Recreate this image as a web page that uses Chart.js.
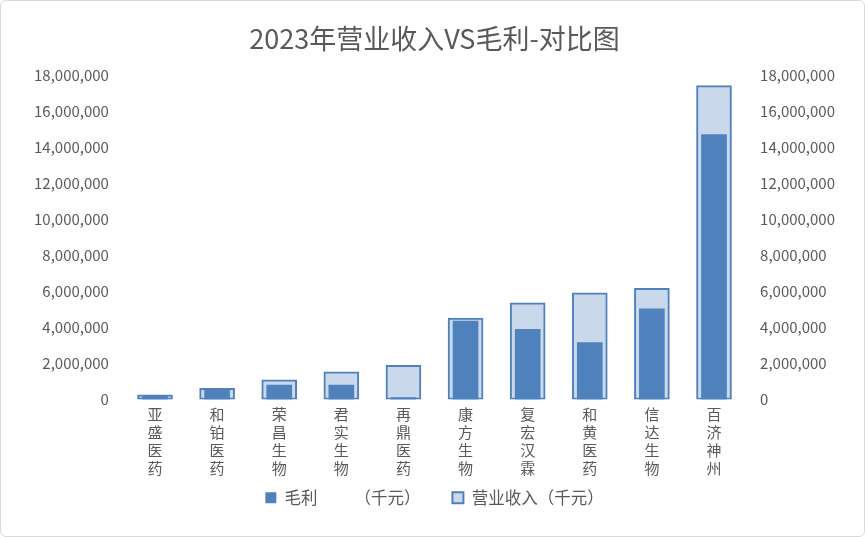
<!DOCTYPE html>
<html>
<head>
<meta charset="utf-8">
<script src="https://cdn.jsdelivr.net/npm/chart.js@4.4.0/dist/chart.umd.min.js"></script>
<style>
  html, body { margin: 0; padding: 0; background: #fff; }
  #wrap {
    width: 863px; height: 535px;
    border: 1px solid #D9D9D9; border-radius: 6px;
    position: relative; overflow: hidden;
  }
</style>
</head>
<body>
<div id="wrap"><canvas id="chart" width="863" height="535"></canvas></div>
<script>
const companies = ['亚盛医药', '和铂医药', '荣昌生物', '君实生物', '再鼎医药', '康方生物', '复宏汉霖', '和黄医药', '信达生物', '百济神州'];
const grossProfit = [220000, 580000, 800000, 800000, 100000, 4350000, 3900000, 3160000, 5040000, 14720000];
const revenue = [260000, 620000, 1090000, 1540000, 1900000, 4520000, 5370000, 5920000, 6180000, 17430000];
const yTicks = [0, 2000000, 4000000, 6000000, 8000000, 10000000, 12000000, 14000000, 16000000, 18000000];

const fontFamily = '"Noto Sans CJK SC", "Noto Sans", sans-serif';
const textColor = '#595959';

const fmt = v => v.toLocaleString('en-US');

const yAxis = (position) => ({
    position: position,
    min: 0,
    max: 18000000,
    afterBuildTicks: axis => { axis.ticks = yTicks.map(v => ({ value: v })); },
    grid: { display: false, drawTicks: false },
    border: { display: false },
    ticks: {
        color: textColor,
        font: { family: fontFamily, size: 15 },
        padding: 15,
        callback: v => fmt(v)
    }
});

new Chart(document.getElementById('chart').getContext('2d'), {
    type: 'bar',
    data: {
        labels: companies.map(c => c.split('')),
        datasets: [{
            label: '毛利          （千元）       ',
            data: grossProfit,
            backgroundColor: '#4F81BD',
            borderWidth: 0,
            barThickness: 25,
            grouped: false,
            xAxisID: 'x',
            yAxisID: 'y'
        }, {
            label: '营业收入（千元）',
            data: revenue,
            backgroundColor: '#C9D8EB',
            borderColor: '#4F81BD',
            borderWidth: 2,
            borderSkipped: false,
            barThickness: 35,
            grouped: false,
            xAxisID: 'x2',
            yAxisID: 'y2'
        }]
    },
    options: {
        responsive: false,
        animation: false,
        layout: { padding: { left: 18, right: 14, top: 12, bottom: 20 } },
        scales: {
            x: {
                grid: { display: false, drawTicks: false },
                border: { display: false },
                ticks: {
                    color: textColor,
                    font: { family: fontFamily, size: 15, lineHeight: 1.2 },
                    maxRotation: 0,
                    padding: 6
                }
            },
            x2: {
                display: false,
                offset: true,
                grid: { display: false }
            },
            y: yAxis('left'),
            y2: yAxis('right')
        },
        plugins: {
            title: {
                display: true,
                text: '2023年营业收入VS毛利-对比图',
                color: textColor,
                font: { family: fontFamily, size: 27, weight: 'normal' },
                padding: { top: 10, bottom: 20 }
            },
            legend: {
                position: 'bottom',
                labels: {
                    color: textColor,
                    font: { family: fontFamily, size: 16.5 },
                    usePointStyle: true,
                    pointStyle: 'rect',
                    boxWidth: 11,
                    boxHeight: 11,
                    padding: 6
                }
            },
            tooltip: { enabled: false }
        }
    }
});
</script>
</body>
</html>
